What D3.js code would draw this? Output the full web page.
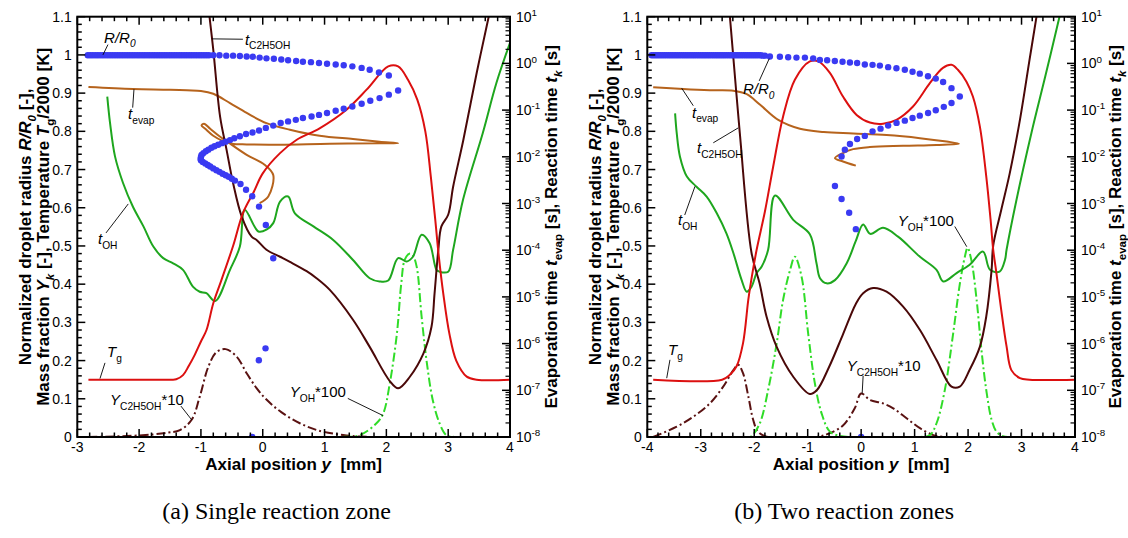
<!DOCTYPE html>
<html>
<head>
<meta charset="utf-8">
<script src="https://cdn.jsdelivr.net/npm/d3@7"></script>
<style>
  html, body { margin: 0; padding: 0; background: #fff; }
  svg { display: block; font-family: "Liberation Sans", Arial, Helvetica, sans-serif; }
</style>
</head>
<body>
<svg id="chart" width="1128" height="538"></svg>
<script>
// ------------------------------------------------------------------
// Data: axial position y [mm] paired with the quantity on each axis.
// Left axis (linear): R/R0, Tg/2000, Y_C2H5OH*10, Y_OH*100.
// Right axis (log, seconds): t_evap, t_C2H5OH, t_OH.
// ------------------------------------------------------------------

// (a) Single reaction zone
const aTemperature = [[-2.82,0.15],[-1.5,0.15],[-1.4,0.151],[-1.29,0.162],[-1.2,0.185],[-1.1,0.215],[-1.0,0.25],[-0.91,0.28],[-0.8,0.35],[-0.67,0.41],[-0.48,0.5],[-0.32,0.586],[-0.15,0.64],[0.0,0.69],[0.28,0.743],[0.55,0.778],[0.92,0.808],[1.35,0.856],[1.68,0.909],[2.03,0.97],[2.19,0.97],[2.35,0.935],[2.5,0.883],[2.63,0.80],[2.72,0.68],[2.79,0.57],[2.85,0.47],[2.92,0.376],[3.02,0.27],[3.13,0.20],[3.3,0.158],[3.46,0.15],[4.0,0.15]];

const aYEthanol = [[-2.82,0],[-2.0,0.004],[-1.55,0.011],[-1.34,0.018],[-1.15,0.045],[-1.02,0.105],[-0.88,0.184],[-0.75,0.222],[-0.6,0.23],[-0.42,0.21],[-0.26,0.167],[-0.1,0.128],[0.06,0.098],[0.3,0.065],[0.6,0.036],[0.9,0.017],[1.3,0.005],[1.6,0.001],[2.0,0],[4.0,0]];

const aYOH = [[-2.82,0],[1.2,0],[1.57,0.005],[1.84,0.036],[1.95,0.062],[2.055,0.14],[2.17,0.27],[2.24,0.40],[2.3,0.465],[2.38,0.48],[2.43,0.475],[2.49,0.446],[2.57,0.315],[2.65,0.20],[2.75,0.097],[2.86,0.036],[2.97,0.005],[3.1,0],[4.0,0]];

const aTimeEthanol = [[-0.87,12.6],[-0.8,1.95],[-0.69,0.0724],[-0.585,0.0141],[-0.48,2.75e-3],[-0.34,5.25e-4],[-0.18,1.95e-4],[-0.1,1.66e-4],[0.06,1.02e-4],[0.28,7.24e-5],[0.44,5.62e-5],[0.71,3.55e-5],[0.87,2.51e-5],[1.085,1.41e-5],[1.46,3.24e-6],[1.73,8.51e-7],[2.055,1.58e-7],[2.19,1.1e-7],[2.38,1.95e-7],[2.6,6.17e-7],[2.73,2.29e-6],[2.78,1.2e-5],[2.84,1.0e-4],[2.89,3.24e-4],[3.0,5.75e-4],[3.08,2.29e-3],[3.245,0.0229],[3.46,0.617],[3.645,8.61],[3.68,14.1]];

const aTimeEvap = [[-2.82,0.311],[-2.1,0.282],[-1.5,0.272],[-1.0,0.257],[-0.8,0.224],[-0.53,0.141],[-0.26,0.0871],[0.06,0.0525],[0.44,0.038],[0.92,0.0282],[1.46,0.024],[1.89,0.0211],[2.19,0.0196],[1.89,0.0195],[1.085,0.0191],[0.277,0.0182],[-0.26,0.0184],[-0.5,0.0191],[-0.65,0.0219],[-0.8,0.0282],[-0.93,0.0398],[-0.99,0.0468],[-0.95,0.0513],[-0.85,0.0398],[-0.7,0.0275],[-0.55,0.020],[-0.26,0.011],[0.03,6.76e-3],[0.17,4.07e-3],[0.09,1.41e-3],[-0.05,1.02e-3]];

const aTimeOH = [[-2.515,0.195],[-2.47,0.0525],[-2.39,0.0102],[-2.26,2.75e-3],[-2.1,8.51e-4],[-1.93,3.24e-4],[-1.77,1.2e-4],[-1.61,6.76e-5],[-1.45,5.25e-5],[-1.29,3.8e-5],[-1.13,1.66e-5],[-1.02,1.29e-5],[-0.91,1.2e-5],[-0.77,8.13e-6],[-0.53,3.8e-5],[-0.37,1.2e-4],[-0.29,7.24e-4],[-0.07,2.51e-4],[0.06,2.75e-4],[0.17,3.8e-4],[0.28,1.1e-3],[0.41,1.41e-3],[0.52,6.17e-4],[0.82,3.24e-4],[1.14,1.66e-4],[1.46,6.17e-5],[1.73,2.51e-5],[1.89,2.14e-5],[2.03,2.24e-5],[2.19,6.76e-5],[2.33,5.75e-5],[2.43,7.24e-5],[2.57,2.14e-4],[2.7,1.41e-4],[2.81,3.8e-5],[2.86,3.47e-5],[3.0,3.47e-5],[3.08,1.02e-4],[3.24,1.2e-3],[3.56,0.0324],[3.78,0.38],[4.0,2.75]];

const aRadius = [
  [-2.83,.999],[-2.79,.999],[-2.75,.999],[-2.71,.999],[-2.67,.999],[-2.63,.999],[-2.59,.999],[-2.55,.999],[-2.51,.999],[-2.47,.999],
  [-2.43,.999],[-2.39,.999],[-2.35,.999],[-2.31,.999],[-2.27,.999],[-2.23,.999],[-2.19,.999],[-2.15,.999],[-2.11,.999],[-2.07,.999],
  [-2.03,.999],[-1.99,.999],[-1.95,.999],[-1.91,.999],[-1.87,.999],[-1.83,.999],[-1.79,.999],[-1.75,.999],[-1.71,.999],[-1.67,.999],
  [-1.63,.999],[-1.59,.999],[-1.55,.999],[-1.51,.999],[-1.47,.999],[-1.43,.999],[-1.39,.999],[-1.35,.999],[-1.31,.999],[-1.27,.999],
  [-1.23,.999],[-1.19,.999],[-1.15,.999],[-1.11,.999],[-1.07,.999],[-1.03,.999],[-0.99,.999],[-0.95,.999],[-0.91,.999],[-0.87,.999],
  [-0.80,.999],[-0.70,.999],[-0.59,.998],[-0.48,.998],[-0.37,.997],[-0.26,.996],[-0.16,.995],[-0.05,.993],[0.06,.991],[0.18,.990],
  [0.30,.988],[0.41,.986],[0.54,.984],[0.65,.982],[0.78,.981],[0.91,.979],[1.04,.977],[1.18,.975],[1.31,.973],[1.45,.970],
  [1.60,.966],[1.73,.961],[1.88,.954],[2.04,.946],
  [2.19,.907],[2.04,.896],[1.89,.887],[1.74,.880],[1.60,.872],[1.45,.865],[1.31,.859],[1.18,.854],[1.04,.848],[0.91,.843],
  [0.79,.839],[0.65,.835],[0.535,.830],[0.41,.826],[0.29,.822],[0.17,.815],[0.05,.809],[-0.06,.802],[-0.165,.797],[-0.27,.793],
  [-0.37,.787],[-0.46,.782],[-0.53,.777],[-0.60,.773],[-0.66,.769],[-0.72,.765],[-0.78,.761],[-0.83,.757],[-0.88,.752],[-0.92,.748],
  [-0.96,.743],[-0.99,.738],[-1.0,.733],[-1.005,.728],[-1.0,.724],[-0.97,.720],[-0.93,.716],[-0.89,.712],[-0.85,.708],[-0.80,.703],
  [-0.75,.698],[-0.70,.694],[-0.65,.689],[-0.60,.685],[-0.55,.681],[-0.50,.676],[-0.45,.671],[-0.36,.662],[-0.27,.647],[-0.17,.630],
  [-0.06,.603],[0.05,.555],[0.17,.468],[0.045,.232],[-0.063,.201],[-0.17,0.0]
];

// (b) Two reaction zones
const bTemperature = [[-3.89,0.15],[-2.6,0.15],[-2.46,0.162],[-2.33,0.185],[-2.21,0.245],[-2.11,0.36],[-2.05,0.415],[-1.955,0.49],[-1.8,0.59],[-1.645,0.708],[-1.46,0.839],[-1.24,0.935],[-0.96,0.983],[-0.8,0.983],[-0.585,0.953],[-0.34,0.891],[-0.085,0.843],[0.163,0.823],[0.41,0.82],[0.66,0.83],[0.97,0.865],[1.285,0.926],[1.53,0.966],[1.69,0.974],[1.81,0.961],[1.97,0.93],[2.09,0.891],[2.22,0.813],[2.34,0.682],[2.42,0.57],[2.47,0.49],[2.53,0.429],[2.62,0.333],[2.72,0.237],[2.81,0.175],[2.97,0.154],[3.15,0.15],[4.0,0.15]];

const bYEthanol = [[-3.89,0],[-3.45,0.027],[-3.14,0.053],[-2.83,0.088],[-2.58,0.132],[-2.39,0.175],[-2.3,0.189],[-2.21,0.167],[-2.11,0.106],[-2.02,0.045],[-1.93,0.014],[-1.77,0.001],[-1.2,0],[-0.8,0.001],[-0.585,0.01],[-0.34,0.03],[-0.12,0.075],[0.0,0.114],[0.163,0.097],[0.41,0.088],[0.6,0.075],[0.85,0.049],[1.1,0.023],[1.35,0.005],[1.6,0],[4.0,0]];

const bYOH = [[-3.89,0],[-2.1,0],[-2.05,0.002],[-1.895,0.036],[-1.74,0.123],[-1.58,0.245],[-1.46,0.359],[-1.33,0.437],[-1.24,0.472],[-1.115,0.42],[-0.99,0.27],[-0.865,0.14],[-0.74,0.062],[-0.585,0.014],[-0.4,0.003],[-0.2,0],[1.1,0],[1.285,0.005],[1.41,0.036],[1.565,0.123],[1.72,0.27],[1.845,0.40],[1.94,0.472],[1.99,0.495],[2.06,0.464],[2.16,0.359],[2.25,0.228],[2.34,0.123],[2.44,0.045],[2.53,0.014],[2.65,0.002],[2.8,0],[4.0,0]];

const bTimeEthanol = [[-2.47,14.1],[-2.455,10],[-2.27,0.0324],[-2.05,8.71e-5],[-1.9,1.95e-5],[-1.77,3.8e-6],[-1.58,8.51e-7],[-1.27,1.95e-7],[-0.96,8.32e-8],[-0.83,1.0e-7],[-0.6,3.16e-7],[-0.34,1.58e-6],[-0.1,7.08e-6],[0.037,1.2e-5],[0.224,1.55e-5],[0.475,1.29e-5],[0.785,6.17e-6],[1.1,1.95e-6],[1.41,4.47e-7],[1.69,1.2e-7],[1.845,1.2e-7],[2.03,2.75e-7],[2.22,8.51e-7],[2.34,3.8e-6],[2.44,3.8e-5],[2.47,1.26e-4],[2.62,7.24e-4],[2.78,4.47e-3],[2.97,0.0617],[3.15,1.2],[3.28,10],[3.3,14.1]];

const bTimeEvap = [[-3.89,0.309],[-3.33,0.282],[-2.83,0.266],[-2.39,0.26],[-2.14,0.219],[-1.895,0.132],[-1.55,0.0617],[-1.145,0.0398],[-0.7,0.0339],[-0.15,0.0316],[0.475,0.0292],[1.1,0.0251],[1.6,0.0212],[1.83,0.0191],[1.41,0.018],[0.785,0.0172],[0.163,0.0162],[-0.15,0.0146],[-0.34,0.012],[-0.49,9.33e-3],[-0.34,7.94e-3],[-0.1,6.46e-3]];

const bTimeOH = [[-3.48,0.0851],[-3.45,0.0324],[-3.39,0.0102],[-3.26,3.8e-3],[-3.08,2.29e-3],[-2.89,1.41e-3],[-2.7,6.17e-4],[-2.52,2.29e-4],[-2.39,8.71e-5],[-2.235,2.29e-5],[-2.14,1.29e-5],[-2.05,1.66e-5],[-1.955,3.24e-5],[-1.86,4.47e-5],[-1.74,1.02e-4],[-1.61,1.48e-3],[-1.27,4.47e-4],[-0.96,2.19e-4],[-0.835,5.25e-5],[-0.77,2.51e-5],[-0.645,1.95e-5],[-0.49,2.29e-5],[-0.27,5.25e-5],[-0.1,1.58e-4],[0.037,3.55e-4],[0.17,2.24e-4],[0.41,3.02e-4],[0.69,1.95e-4],[1.1,7.24e-5],[1.41,3.8e-5],[1.535,2.14e-5],[1.785,3.24e-5],[2.03,4.9e-5],[2.28,9.33e-5],[2.41,3.8e-5],[2.59,3.47e-5],[2.69,6.17e-5],[2.72,1.02e-4],[2.9,1.12e-3],[3.185,0.0324],[3.45,0.562],[3.71,10],[3.73,12.6]];

const bRadius = [
  [-3.92,.999],[-3.88,.999],[-3.84,.999],[-3.80,.999],[-3.76,.999],[-3.72,.999],[-3.68,.999],[-3.64,.999],[-3.60,.999],[-3.56,.999],
  [-3.52,.999],[-3.48,.999],[-3.44,.999],[-3.40,.999],[-3.36,.999],[-3.32,.999],[-3.28,.999],[-3.24,.999],[-3.20,.999],[-3.16,.999],
  [-3.12,.999],[-3.08,.999],[-3.04,.999],[-3.00,.999],[-2.96,.999],[-2.92,.999],[-2.88,.999],[-2.84,.999],[-2.80,.999],[-2.76,.999],
  [-2.72,.999],[-2.68,.999],[-2.64,.999],[-2.60,.999],[-2.56,.999],[-2.52,.999],[-2.48,.999],[-2.44,.999],[-2.40,.999],[-2.36,.999],
  [-2.32,.999],[-2.28,.999],[-2.24,.999],[-2.20,.999],[-2.16,.999],[-2.12,.999],[-2.08,.999],[-2.04,.999],[-2.00,.999],[-1.96,.999],
  [-1.92,.999],[-1.88,.999],[-1.84,.998],[-1.80,.998],
  [-1.707,.996],[-1.52,.995],[-1.365,.994],[-1.21,.993],[-1.052,.993],[-0.897,.991],[-0.772,.987],[-0.636,.986],[-0.492,.984],[-0.348,.982],
  [-0.21,.980],[-0.075,.979],[0.069,.975],[0.213,.974],[0.35,.972],[0.505,.968],[0.66,.965],[0.817,.961],[0.961,.956],[1.097,.951],
  [1.25,.944],[1.396,.938],[1.533,.929],[1.69,.913],[1.845,.891],
  [1.69,.874],[1.546,.864],[1.396,.855],[1.252,.848],[1.097,.841],[0.961,.835],[0.817,.828],[0.662,.822],[0.505,.815],[0.363,.807],
  [0.213,.800],[0.069,.788],[-0.075,.780],[-0.21,.767],[-0.305,.752],[-0.366,.734],
  [-0.49,.657],[-0.366,.623],[-0.224,.587],[-0.099,.544],[0.0,0.0]
];

// Panel frames and axis ranges
const panels = [
  { id: "a", left: 77.3, right: 510, xDomain: [-3, 4], caption: "(a) Single reaction zone",
    temperature: aTemperature, yEthanol: aYEthanol, yOH: aYOH,
    tEthanol: aTimeEthanol, tEvap: aTimeEvap, tOH: aTimeOH, radius: aRadius,
    titleL1: 31, titleL2: 49, titleR: 557,
    labels: {
      radius:  { at: [-2.567, 1.032], lead: [[-2.504, 1.027], [-2.585, 1.0]] },
      tEth:    { at: [-0.289, 1.027], lead: [[-0.822, 1.042], [-0.321, 1.041]] },
      tEvap:   { at: [-2.179, 0.833], lead: [[-2.104, 0.862], [-2.083, 0.910]] },
      tOH:     { at: [-2.665, 0.505], lead: [[-2.536, 0.534], [-2.176, 0.610]] },
      temp:    { at: [-2.52, 0.21],   lead: [[-2.552, 0.194], [-2.633, 0.153]] },
      yEth:    { at: [-2.47, 0.084],  lead: [[-1.324, 0.081], [-1.15, 0.045]] },
      yOH:     { at: [0.436, 0.105],  lead: [[1.376, 0.101], [1.947, 0.056]] }
    } },
  { id: "b", left: 647.3, right: 1075, xDomain: [-4, 4], caption: "(b) Two reaction zones",
    temperature: bTemperature, yEthanol: bYEthanol, yOH: bYOH,
    tEthanol: bTimeEthanol, tEvap: bTimeEvap, tOH: bTimeOH, radius: bRadius,
    titleL1: 601, titleL2: 619, titleR: 1121,
    labels: {
      radius:  { at: [-2.211, 0.898], lead: [[-1.907, 0.932], [-1.72, 0.99]] },
      tEth:    { at: [-3.07, 0.744],  lead: [[-2.766, 0.77], [-2.299, 0.809]] },
      tEvap:   { at: [-3.164, 0.836], lead: [[-3.14, 0.867], [-3.357, 0.913]] },
      tOH:     { at: [-3.426, 0.555], lead: [[-3.3, 0.581], [-3.108, 0.656]] },
      temp:    { at: [-3.613, 0.215], lead: [[-3.576, 0.202], [-3.637, 0.154]] },
      yEth:    { at: [-0.269, 0.173], lead: [[0.037, 0.16], [0.019, 0.114]] },
      yOH:     { at: [0.685, 0.553],  lead: [[1.751, 0.551], [1.976, 0.498]] }
    } }
];

const TOP = 16.7, BOTTOM = 437;
const COLORS = {
  radius: "#3a3af2", temperature: "#dc1010", tEthanol: "#4a0808", tEvap: "#b6631c",
  tOH: "#1ea61e", yOH: "#30dc28", yEthanol: "#5a1212"
};

const svg = d3.select("#chart");
svg.append("rect").attr("width", 1128).attr("height", 538).attr("fill", "#fff");

// Writes text made of plain / italic / subscript / superscript runs.
function richText(parent, x, y, parts, size, opts = {}) {
  const t = parent.append("text")
    .attr("x", x).attr("y", y)
    .attr("font-size", size)
    .attr("fill", "#000");
  if (opts.weight) t.attr("font-weight", opts.weight);
  if (opts.anchor) t.attr("text-anchor", opts.anchor);
  if (opts.rotate) t.attr("transform", `rotate(${opts.rotate},${x},${y})`);
  if (opts.family) t.attr("font-family", opts.family);
  let shift = 0;
  parts.forEach(p => {
    const span = t.append("tspan").text(p.t);
    const small = p.sub || p.sup;
    const target = p.sub ? size * 0.32 : p.sup ? -size * 0.42 : 0;
    if (target - shift !== 0) span.attr("dy", target - shift);
    shift = target;
    if (small) span.attr("font-size", size * (p.scale || 0.68));
    if (p.it) span.attr("font-style", "italic");
  });
  return t;
}

function drawPanel(P) {
  const x = d3.scaleLinear().domain(P.xDomain).range([P.left, P.right]);
  const yL = d3.scaleLinear().domain([0, 1.1]).range([BOTTOM, TOP]);
  const yR = d3.scaleLog().domain([1e-8, 1e1]).range([BOTTOM, TOP]);
  const g = svg.append("g");

  const clipId = "clip-" + P.id;
  svg.append("clipPath").attr("id", clipId).append("rect")
    .attr("x", P.left).attr("y", TOP)
    .attr("width", P.right - P.left).attr("height", BOTTOM - TOP);
  const plot = g.append("g").attr("clip-path", `url(#${clipId})`);

  const curve = d3.curveCatmullRom.alpha(0.5);
  const lineL = d3.line().x(d => x(d[0])).y(d => yL(d[1])).curve(curve);
  const lineR = d3.line().x(d => x(d[0])).y(d => yR(d[1])).curve(curve);

  const path = (data, gen, color, dash) => {
    const p = plot.append("path").datum(data)
      .attr("d", gen).attr("fill", "none")
      .attr("stroke", color).attr("stroke-width", 2)
      .attr("stroke-linejoin", "round").attr("stroke-linecap", "butt");
    if (dash) p.attr("stroke-dasharray", dash);
  };

  // mass fractions (dash-dot)
  path(P.yEthanol, lineL, COLORS.yEthanol, "9,3,2,3");
  path(P.yOH, lineL, COLORS.yOH, "9,3,2,3");
  // times on the log axis
  path(P.tEvap, lineR, COLORS.tEvap);
  path(P.tOH, lineR, COLORS.tOH);
  path(P.tEthanol, lineR, COLORS.tEthanol);
  // gas temperature
  path(P.temperature, lineL, COLORS.temperature);
  // droplet radius
  plot.append("g").selectAll("circle").data(P.radius).join("circle")
    .attr("cx", d => x(d[0])).attr("cy", d => yL(d[1]))
    .attr("r", 3.2).attr("fill", COLORS.radius);

  // ---- frame & ticks ----
  const ax = g.append("g").attr("stroke", "#000");
  const MAJ = 8, MIN = 4.5;
  // x ticks on bottom and top
  const i0 = Math.round(P.xDomain[0] * 5), i1 = Math.round(P.xDomain[1] * 5);
  for (let i = i0; i <= i1; i++) {
    const v = i / 5, px = x(v), major = i % 5 === 0, len = major ? MAJ : MIN;
    ax.append("line").attr("x1", px).attr("x2", px).attr("y1", BOTTOM).attr("y2", BOTTOM - len).attr("stroke-width", 1.5);
    ax.append("line").attr("x1", px).attr("x2", px).attr("y1", TOP).attr("y2", TOP + len).attr("stroke-width", 1.5);
    if (major) {
      g.append("text").attr("x", px).attr("y", BOTTOM + 14.5)
        .attr("text-anchor", "middle").attr("font-size", 14).text(String(v));
    }
  }
  // left linear axis
  for (let i = 0; i <= 55; i++) {
    const v = i / 50, py = yL(v), major = i % 5 === 0, len = major ? MAJ : MIN;
    ax.append("line").attr("x1", P.left).attr("x2", P.left + len).attr("y1", py).attr("y2", py).attr("stroke-width", 1.5);
    if (major) {
      g.append("text").attr("x", P.left - 5.5).attr("y", py + 5)
        .attr("text-anchor", "end").attr("font-size", 14).text(String(+v.toFixed(1)));
    }
  }
  // right log axis
  for (let e = -8; e <= 1; e++) {
    const py = yR(Math.pow(10, e));
    ax.append("line").attr("x1", P.right).attr("x2", P.right - MAJ).attr("y1", py).attr("y2", py).attr("stroke-width", 1.5);
    richText(g, P.right + 6, py + 5, [{ t: "10" }, { t: String(e), sup: true, scale: 0.7 }], 14);
    if (e < 1) {
      for (let m = 2; m <= 9; m++) {
        const pm = yR(m * Math.pow(10, e));
        ax.append("line").attr("x1", P.right).attr("x2", P.right - MIN).attr("y1", pm).attr("y2", pm).attr("stroke-width", 1.2);
      }
    }
  }
  g.append("rect").attr("x", P.left).attr("y", TOP)
    .attr("width", P.right - P.left).attr("height", BOTTOM - TOP)
    .attr("fill", "none").attr("stroke", "#000").attr("stroke-width", 2);

  // ---- axis titles ----
  const midY = (TOP + BOTTOM) / 2;
  richText(g, P.titleL1, midY, [
    { t: "Normalized droplet radius " }, { t: "R/R", it: true }, { t: "0", sub: true, it: true }, { t: " [-]," }
  ], 17, { weight: "bold", anchor: "middle", rotate: -90 });
  richText(g, P.titleL2, midY, [
    { t: "Mass fraction " }, { t: "Y", it: true }, { t: "k", sub: true, it: true },
    { t: " [-], Temperature " }, { t: "T", it: true }, { t: "g", sub: true }, { t: "/2000 [K]" }
  ], 17, { weight: "bold", anchor: "middle", rotate: -90 });
  richText(g, P.titleR, midY, [
    { t: "Evaporation time " }, { t: "t", it: true }, { t: "evap", sub: true },
    { t: " [s], Reaction time " }, { t: "t", it: true }, { t: "k", sub: true, it: true }, { t: " [s]" }
  ], 17, { weight: "bold", anchor: "middle", rotate: -90 });
  richText(g, (P.left + P.right) / 2, 469.5, [
    { t: "Axial position " }, { t: "y", it: true }, { t: "\u00a0 [mm]" }
  ], 17, { weight: "bold", anchor: "middle" });

  // ---- curve labels with leader lines ----
  const L = P.labels;
  const leader = (pts) => g.append("line")
    .attr("x1", x(pts[0][0])).attr("y1", yL(pts[0][1]))
    .attr("x2", x(pts[1][0])).attr("y2", yL(pts[1][1]))
    .attr("stroke", "#000").attr("stroke-width", 0.9);
  const label = (key, parts) => {
    leader(L[key].lead);
    richText(g, x(L[key].at[0]), yL(L[key].at[1]), parts, 15);
  };
  label("radius", [{ t: "R/R", it: true }, { t: "0", sub: true, it: true }]);
  label("tEth", [{ t: "t", it: true }, { t: "C2H5OH", sub: true }]);
  label("tEvap", [{ t: "t", it: true }, { t: "evap", sub: true }]);
  label("tOH", [{ t: "t", it: true }, { t: "OH", sub: true }]);
  label("temp", [{ t: "T", it: true }, { t: "g", sub: true }]);
  label("yEth", [{ t: "Y", it: true }, { t: "C2H5OH", sub: true }, { t: "*10" }]);
  label("yOH", [{ t: "Y", it: true }, { t: "OH", sub: true }, { t: "*100" }]);

  // caption
  svg.append("text").attr("x", (P.left + P.right) / 2 - 17).attr("y", 519)
    .attr("text-anchor", "middle").attr("font-size", 24)
    .attr("font-family", "'Liberation Serif', 'Times New Roman', serif")
    .text(P.caption);
}

panels.forEach(drawPanel);
</script>
</body>
</html>
